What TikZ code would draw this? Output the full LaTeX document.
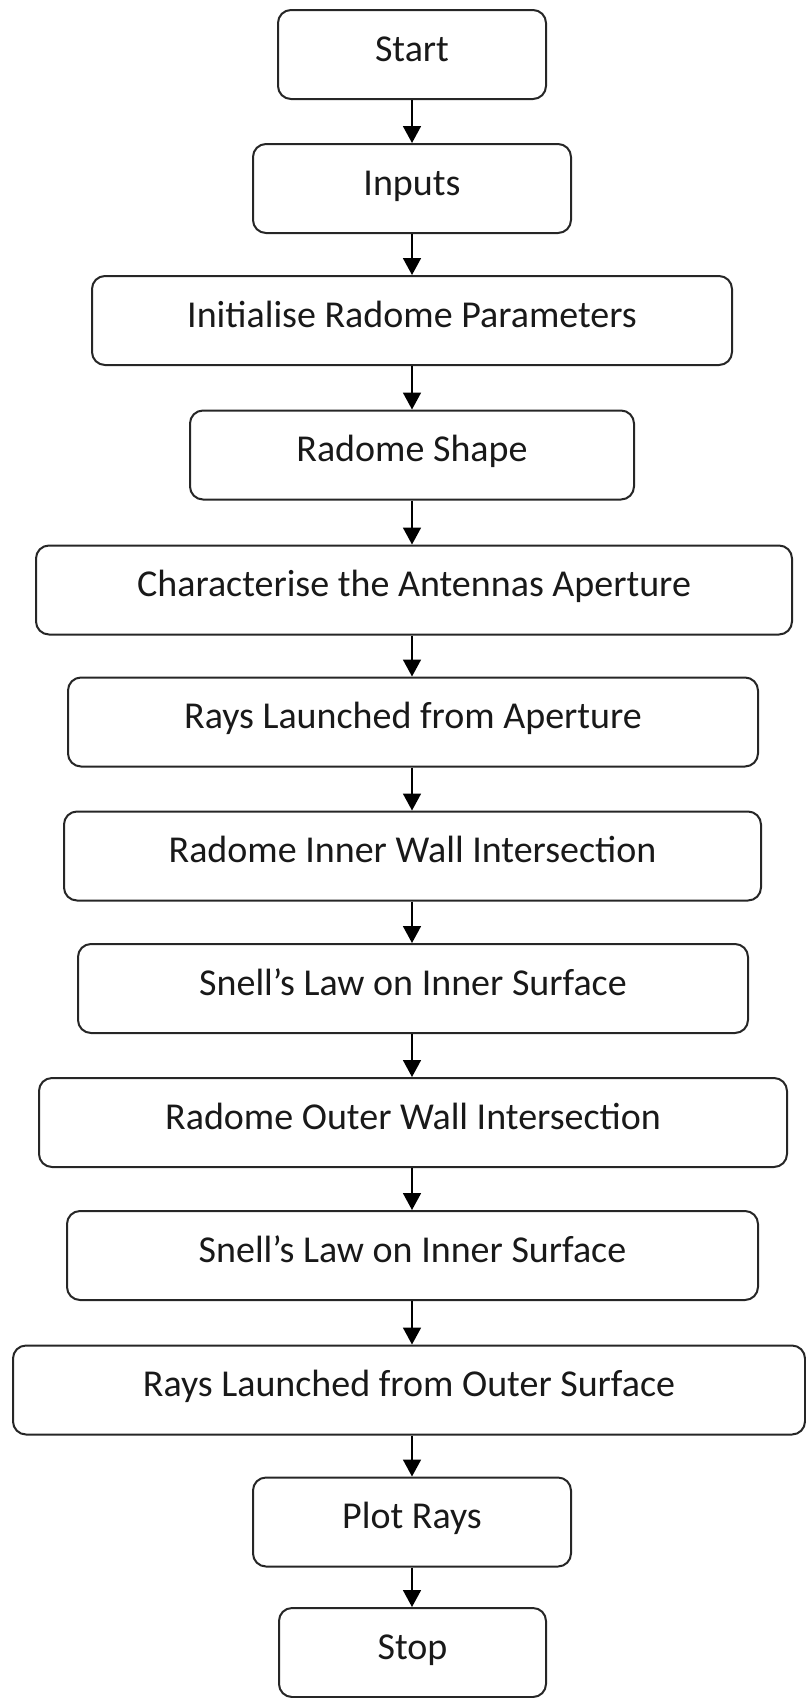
\documentclass[tikz,border=0pt]{standalone}
\usepackage{fontspec}
\setmainfont{Carlito}
\usetikzlibrary{arrows.meta}

\tikzset{
  stepbox/.style={draw=black!85, line width=1pt, rounded corners=6.5pt,
    rectangle, inner sep=0pt, minimum height=44.5pt,
    font=\fontsize{19pt}{23pt}\selectfont, text=black!90,
    text height=13pt, text depth=6.3pt},
  flow/.style={draw=black, line width=0.9pt,
    -{Triangle[width=9pt,length=8.5pt]}}
}

\begin{document}
\begin{tikzpicture}[x=0.5pt,y=-0.5pt]
\useasboundingbox (0,0) rectangle (806,1698);

% process boxes (centre x, centre y, width)
\node[stepbox, minimum width=134pt] (start)   at (412,54.5)   {Start};
\node[stepbox, minimum width=159pt] (inputs)  at (412,188.5)  {Inputs};
\node[stepbox, minimum width=320pt] (init)    at (412,320.5)  {Initialise Radome Parameters};
\node[stepbox, minimum width=222pt] (shape)   at (412,455)    {Radome Shape};
\node[stepbox, minimum width=378pt] (aper)    at (414,590)    {Characterise the Antennas Aperture};
\node[stepbox, minimum width=345pt] (launch)  at (413,722)    {Rays Launched from Aperture};
\node[stepbox, minimum width=348.5pt] (inner) at (412.5,856)  {Radome Inner Wall Intersection};
\node[stepbox, minimum width=335pt] (snellA)  at (413,988.5)  {Snell’s Law on Inner Surface};
\node[stepbox, minimum width=374pt] (outer)   at (413,1122.5) {Radome Outer Wall Intersection};
\node[stepbox, minimum width=345.5pt] (snellB) at (412.5,1255.5) {Snell’s Law on Inner Surface};
\node[stepbox, minimum width=396pt] (rays)    at (409,1390)   {Rays Launched from Outer Surface};
\node[stepbox, minimum width=159pt] (plot)    at (412,1522)   {Plot Rays};
\node[stepbox, minimum width=133.5pt] (stop)  at (412.5,1652.5) {Stop};

% connectors
\foreach \a/\b in {start/inputs, inputs/init, init/shape, shape/aper,
                   aper/launch, launch/inner, inner/snellA, snellA/outer,
                   outer/snellB, snellB/rays, rays/plot, plot/stop}
  \draw[flow] (412,0 |- \a.south) -- (412,0 |- \b.north);
\end{tikzpicture}
\end{document}
